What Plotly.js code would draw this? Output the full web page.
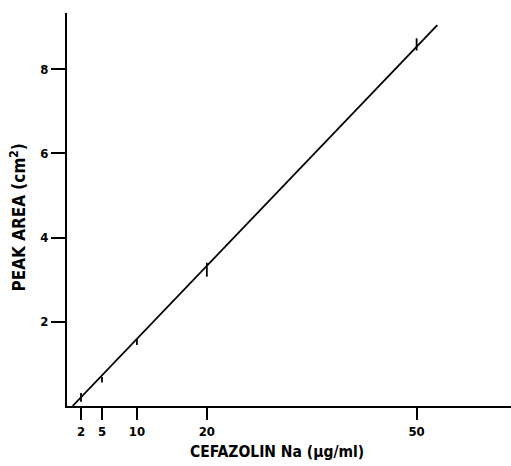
<!DOCTYPE html>
<html>
<head>
<meta charset="utf-8">
<script src="https://cdn.plot.ly/plotly-3.0.1.min.js"></script>
<style>html,body{margin:0;padding:0;background:#fff;}#chart{width:511px;height:466px;}</style>
</head>
<body>
<div id="chart"></div>
<script>
// Concentrations (µg/ml)
var concentrations = [2, 5, 10, 20, 50];
// Mean peak area (cm²) and error ranges
var peakArea = [0.21, 0.63, 1.52, 3.24, 8.58];
var errPlus = [0.10, 0.06, 0.07, 0.16, 0.15];
var errMinus = [0.11, 0.07, 0.07, 0.17, 0.14];
// Regression line end points
var fitX = [0.8, 52.96];
var fitY = [0.0, 9.04];
// Tick values
var xTicks = [2, 5, 10, 20, 50];
var yTicks = [2, 4, 6, 8];
var xTitle = 'CEFAZOLIN Na (µg/ml)';
var yTitle = 'PEAK AREA (cm<sup>2</sup>)';

var fontFam = "'Liberation Sans Narrow', 'DejaVu Sans Condensed', 'Arial Narrow', 'Liberation Sans', sans-serif";

var traces = [
  {
    x: fitX, y: fitY, mode: 'lines', type: 'scatter',
    line: {color: '#000', width: 1.8}, hoverinfo: 'skip', showlegend: false
  },
  {
    x: concentrations, y: peakArea, mode: 'markers', type: 'scatter',
    marker: {size: 0.1, color: '#000', opacity: 0},
    error_y: {type: 'data', symmetric: false, array: errPlus, arrayminus: errMinus,
              color: '#000', thickness: 1.8, width: 0},
    showlegend: false
  }
];

var layout = {
  width: 511, height: 466,
  margin: {l: 67, r: 0, t: 13, b: 60},
  paper_bgcolor: '#fff', plot_bgcolor: '#fff',
  showlegend: false,
  xaxis: {
    range: [0, 63.5],
    tickvals: xTicks, ticktext: xTicks.map(String),
    ticks: 'outside', ticklen: 12, tickwidth: 2, tickcolor: '#000',
    showline: true, linecolor: '#000', linewidth: 2,
    showgrid: false, zeroline: false,
    tickfont: {family: fontFam, size: 13, color: '#000', weight: 'bold'}
  },
  yaxis: {
    range: [0, 9.33],
    tickvals: yTicks, ticktext: yTicks.map(String),
    ticks: 'outside', ticklen: 14, tickwidth: 2, tickcolor: '#000',
    showline: true, linecolor: '#000', linewidth: 2,
    showgrid: false, zeroline: false,
    tickfont: {family: fontFam, size: 13, color: '#000', weight: 'bold'}
  },
  annotations: [
    {
      text: xTitle, xref: 'paper', yref: 'paper', x: 0.474, y: -0.117,
      xanchor: 'center', yanchor: 'middle', showarrow: false,
      font: {family: fontFam, size: 15.5, color: '#000', weight: 'bold'}
    },
    {
      text: yTitle, xref: 'paper', yref: 'paper', x: -0.110, y: 0.48,
      xanchor: 'center', yanchor: 'middle', showarrow: false, textangle: -90,
      font: {family: fontFam, size: 17, color: '#000', weight: 'bold'}
    }
  ]
};

Plotly.newPlot('chart', traces, layout, {staticPlot: true, displayModeBar: false});
</script>
</body>
</html>
